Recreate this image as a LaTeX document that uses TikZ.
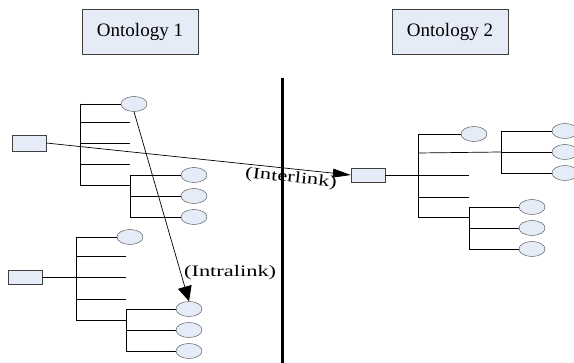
\documentclass[tikz,border=0pt]{standalone}
\usepackage{fontspec}
\setmainfont{Liberation Serif}
\usetikzlibrary{arrows.meta,shapes.geometric}
\definecolor{PaleBlue}{HTML}{E6ECF7}
\definecolor{EdgeGrey}{HTML}{404040}
\newcommand{\linklabel}[1]{\scalebox{1.4}[1]{#1}}

\begin{document}
\begin{tikzpicture}[x=1pt, y=-1pt,
    titlebox/.style={draw=EdgeGrey, fill=PaleBlue, minimum width=116pt, minimum height=45pt, inner sep=0pt, font=\fontsize{19}{22}\selectfont},
    leaf/.style={ellipse, draw=EdgeGrey, fill=PaleBlue, minimum width=26pt, minimum height=15pt, inner sep=0pt},
    rootbox/.style={rectangle, draw=EdgeGrey, fill=PaleBlue, minimum width=34pt, minimum height=15pt, inner sep=0pt},
    branch/.style={draw=black, line width=0.7pt},
    interarrow/.style={-{Triangle[length=18pt, width=9pt]}, line width=0.7pt},
    intraarrow/.style={-{Triangle[length=15pt, width=14pt]}, line width=0.7pt},
    linkfont/.style={font=\fontsize{16}{18}\selectfont, inner sep=1pt}
  ]
    \useasboundingbox (0,0) rectangle (574,363);

    % titles
    \node[titlebox] (ont1) at (140,31.5) {Ontology 1};
    \node[titlebox] (ont2) at (450,31.5) {Ontology 2};

    % divider
    \coordinate (divtop) at (282.5,78);
    \coordinate (divbot) at (282.5,363);
    \draw[line width=3.5pt] (divtop) -- (divbot);

    % ontology 1, upper tree
    \node[rootbox, minimum height=16pt] (ra) at (29,143) {};
    \node[leaf] (a0) at (134,104) {};
    \draw[branch] (80,104) -- (80,185);
    \draw[branch] (80,104) -- (a0);
    \foreach \y in {122,143,164} {
      \draw[branch] (80,\y) -- (130,\y);
    }
    \draw[branch] (80,185) -- (130,185);
    \draw[branch] (130,175) -- (130,217);
    \foreach \y [count=\i] in {175,196,217} {
      \coordinate (as\i) at (130,\y);
      \node[leaf] (a\i) at (194,\y) {};
      \draw[branch] (as\i) -- (a\i);
    }

    % ontology 1, lower tree
    \node[rootbox, minimum height=14pt] (rb) at (25,277) {};
    \node[leaf] (b0) at (130,237) {};
    \coordinate (bt) at (76,277);
    \draw[branch] (rb) -- (bt);
    \draw[branch] (76,237) -- (76,320);
    \draw[branch] (76,237) -- (b0);
    \foreach \y in {256,277,299} {
      \draw[branch] (76,\y) -- (126,\y);
    }
    \draw[branch] (76,320) -- (126,320);
    \draw[branch] (126,309) -- (126,351);
    \foreach \y [count=\i] in {309,330,351} {
      \coordinate (bs\i) at (126,\y);
      \node[leaf] (b\i) at (189,\y) {};
      \draw[branch] (bs\i) -- (b\i);
    }

    % ontology 2
    \node[rootbox, minimum height=14pt] (rc) at (368,175) {};
    \node[leaf] (c0) at (474,134) {};
    \coordinate (ct) at (418,175);
    \draw[branch] (rc) -- (ct);
    \draw[branch] (418,134) -- (418,217);
    \draw[branch] (418,134) -- (c0);
    \draw[branch] (418,153) -- (501,152);
    \draw[branch] (501,131) -- (501,173);
    \foreach \y [count=\i] in {131,152,173} {
      \coordinate (cs\i) at (501,\y);
      \node[leaf] (c\i) at (565,\y) {};
      \draw[branch] (cs\i) -- (c\i);
    }
    \foreach \y in {175,197} {
      \draw[branch] (418,\y) -- (469,\y);
    }
    \draw[branch] (418,217) -- (469,217);
    \draw[branch] (469,207) -- (469,249);
    \foreach \y [count=\i from 4] in {207,228,249} {
      \coordinate (cs\i) at (469,\y);
      \node[leaf] (c\i) at (532,\y) {};
      \draw[branch] (cs\i) -- (c\i);
    }

    % links
    \draw[interarrow] (ra.east) -- node[linkfont, pos=0.807, sloped, below=1pt] {\linklabel{(Interlink)}} (rc.west);
    \draw[intraarrow] (a0.south) -- node[linkfont, pos=0.85, right=2pt] {\linklabel{(Intralink)}} (b1.north);
  \end{tikzpicture}
\end{document}
